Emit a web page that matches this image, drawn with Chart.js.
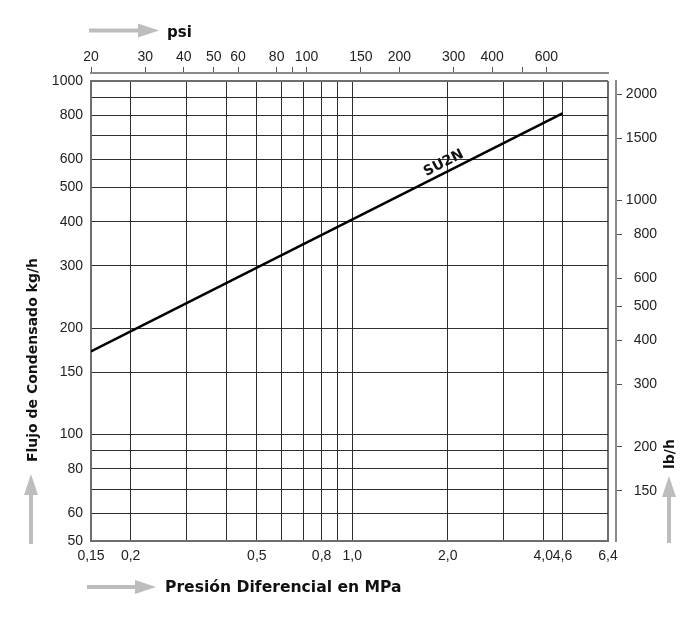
<!DOCTYPE html>
<html>
<head>
<meta charset="utf-8">
<script src="https://cdn.jsdelivr.net/npm/chart.js@4.4.1/dist/chart.umd.min.js"></script>
<style>
  html, body { margin: 0; padding: 0; background: #fff; }
</style>
</head>
<body>
<canvas id="chart" width="700" height="617"></canvas>
<script>
// bottom axis: differential pressure in MPa
const mpaTicks = [0.15, 0.2, 0.3, 0.4, 0.5, 0.6, 0.7, 0.8, 0.9, 1.0, 2.0, 3.0, 4.0, 4.6, 6.4];
const mpaLabelled = [0.15, 0.2, 0.5, 0.8, 1.0, 2.0, 4.0, 4.6, 6.4];
const mpaLabels = ["0,15", "0,2", "0,5", "0,8", "1,0", "2,0", "4,0", "4,6", "6,4"];

// top axis: psi
const psiTicks = [20, 30, 40, 50, 60, 80, 90, 100, 150, 200, 300, 400, 500, 600];
const psiLabelled = [20, 30, 40, 50, 60, 80, 100, 150, 200, 300, 400, 600];

// left axis: kg/h
const kgTicks = [50, 60, 70, 80, 90, 100, 150, 200, 300, 400, 500, 600, 700, 800, 900, 1000];
const kgLabelled = [50, 60, 80, 100, 150, 200, 300, 400, 500, 600, 800, 1000];

// right axis: lb/h
const lbTicks = [150, 200, 300, 400, 500, 600, 800, 1000, 1500, 2000];

// SU2N capacity line
const su2nPressure = [0.15, 4.6];
const su2nFlow = [172, 810];
const seriesName = "SU2N";

const tickFont = { family: "'Liberation Sans', Arial, sans-serif", size: 14 };
const boldFamily = "'DejaVu Sans', Verdana, sans-serif";
const gridColor = "#2e2e2e";
const frameColor = "#6e6e6e";
const arrowColor = "#bdbdbd";

const setTicks = (vals) => (s) => { s.ticks = vals.map((v) => ({ value: v })); };
const pad = (axis, position, size, weight) => ({
  type: "linear", axis, position, weight,
  grid: { display: false }, border: { display: false }, ticks: { display: false },
  afterFit: (s) => { if (axis === "x") s.height = size; else s.width = size; },
});

function arrow(ctx, x1, y1, x2, y2) {
  const ang = Math.atan2(y2 - y1, x2 - x1);
  const head = 21, half = 7;
  const bx = x2 - head * Math.cos(ang), by = y2 - head * Math.sin(ang);
  ctx.save();
  ctx.strokeStyle = arrowColor;
  ctx.fillStyle = arrowColor;
  ctx.lineWidth = 4;
  ctx.beginPath();
  ctx.moveTo(x1, y1);
  ctx.lineTo(bx, by);
  ctx.stroke();
  ctx.beginPath();
  ctx.moveTo(x2, y2);
  ctx.lineTo(bx + half * Math.sin(ang), by - half * Math.cos(ang));
  ctx.lineTo(bx - half * Math.sin(ang), by + half * Math.cos(ang));
  ctx.closePath();
  ctx.fill();
  ctx.restore();
}

// axis titles, arrows and the series label
const decorations = {
  id: "decorations",
  afterDraw(chart) {
    const ctx = chart.ctx;
    ctx.save();
    ctx.fillStyle = "#111";

    // top: psi
    arrow(ctx, 89, 30.5, 159, 30.5);
    ctx.textAlign = "left";
    ctx.textBaseline = "alphabetic";
    ctx.font = "bold 15px " + boldFamily;
    ctx.fillText("psi", 167, 37);

    // bottom: MPa
    arrow(ctx, 87, 587, 156, 587);
    ctx.font = "bold 15.6px " + boldFamily;
    ctx.textBaseline = "middle";
    ctx.fillText("Presión Diferencial en MPa", 165, 588);

    // left: kg/h
    ctx.font = "bold 14px " + boldFamily;
    arrow(ctx, 31, 544, 31, 474);
    ctx.save();
    ctx.translate(33, 360);
    ctx.rotate(-Math.PI / 2);
    ctx.textAlign = "center";
    ctx.fillText("Flujo de Condensado kg/h", 0, 0);
    ctx.restore();

    // right: lb/h
    arrow(ctx, 669, 543, 669, 476);
    ctx.save();
    ctx.translate(670, 454);
    ctx.rotate(-Math.PI / 2);
    ctx.textAlign = "center";
    ctx.fillText("lb/h", 0, 0);
    ctx.restore();

    // series label along the line
    const xs = chart.scales.x, ys = chart.scales.y;
    const x0 = xs.getPixelForValue(su2nPressure[0]), y0 = ys.getPixelForValue(su2nFlow[0]);
    const x1 = xs.getPixelForValue(su2nPressure[1]), y1 = ys.getPixelForValue(su2nFlow[1]);
    const lx = xs.getPixelForValue(2.0);
    const ly = y0 + (lx - x0) * (y1 - y0) / (x1 - x0);
    ctx.translate(lx, ly);
    ctx.rotate(Math.atan2(y1 - y0, x1 - x0));
    ctx.textAlign = "center";
    ctx.textBaseline = "middle";
    ctx.font = "bold 14px " + boldFamily;
    ctx.fillText(seriesName, 0, -9);
    ctx.restore();
  },
};

const edge = (lo, hi) => (c) => (c.tick && (c.tick.value === lo || c.tick.value === hi));

new Chart(document.getElementById("chart"), {
  type: "line",
  data: {
    datasets: [{
      label: seriesName,
      data: su2nPressure.map((p, i) => ({ x: p, y: su2nFlow[i] })),
      borderColor: "#000",
      borderWidth: 2.5,
      pointRadius: 0,
      fill: false,
      xAxisID: "x",
      yAxisID: "y",
    }],
  },
  options: {
    responsive: false,
    animation: false,
    layout: { padding: 0 },
    plugins: { legend: { display: false }, tooltip: { enabled: false } },
    scales: {
      x: {
        type: "logarithmic", position: "bottom", min: 0.15, max: 6.4,
        afterBuildTicks: setTicks(mpaTicks),
        afterFit: (s) => { s.height = 76; },
        grid: {
          drawTicks: false,
          color: (c) => edge(0.15, 6.4)(c) ? frameColor : gridColor,
          lineWidth: (c) => edge(0.15, 6.4)(c) ? 2 : 1,
        },
        border: { color: frameColor, width: 2 },
        ticks: {
          autoSkip: false, maxRotation: 0, padding: 7, color: "#222", font: tickFont,
          callback: (v) => { const i = mpaLabelled.indexOf(v); return i < 0 ? "" : mpaLabels[i]; },
        },
      },
      padTop: pad("x", "top", 8, 0),
      psi: {
        type: "logarithmic", axis: "x", position: "top", weight: 1, min: 20, max: 950,
        afterBuildTicks: setTicks(psiTicks),
        afterFit: (s) => { s.height = 73; },
        grid: { drawOnChartArea: false, tickLength: 6, color: "#555" },
        border: { color: "#8a8a8a", width: 2 },
        ticks: {
          autoSkip: false, maxRotation: 0, padding: 1, color: "#222", font: tickFont,
          callback: (v) => (psiLabelled.includes(v) ? String(v) : ""),
        },
      },
      y: {
        type: "logarithmic", position: "left", min: 50, max: 1000,
        afterBuildTicks: setTicks(kgTicks),
        afterFit: (s) => { s.width = 91; },
        grid: {
          drawTicks: false,
          color: (c) => edge(1000, 1000)(c) ? frameColor : gridColor,
          lineWidth: (c) => edge(1000, 1000)(c) ? 2 : 1,
        },
        border: { color: frameColor, width: 2 },
        ticks: {
          autoSkip: false, padding: 8, color: "#222", font: tickFont,
          callback: (v) => (kgLabelled.includes(v) ? String(v) : ""),
        },
      },
      padRight: pad("y", "right", 8, 0),
      lb: {
        type: "logarithmic", axis: "y", position: "right", weight: 1, min: 108, max: 2180,
        afterBuildTicks: setTicks(lbTicks),
        afterFit: (s) => { s.width = 41; },
        grid: { drawOnChartArea: false, tickLength: 6, color: "#555" },
        border: { color: "#8a8a8a", width: 2 },
        ticks: {
          autoSkip: false, crossAlign: "far", padding: 5, color: "#222", font: tickFont,
          callback: (v) => String(v),
        },
      },
      padOuter: pad("y", "right", 43, 2),
    },
  },
  plugins: [decorations],
});
</script>
</body>
</html>
